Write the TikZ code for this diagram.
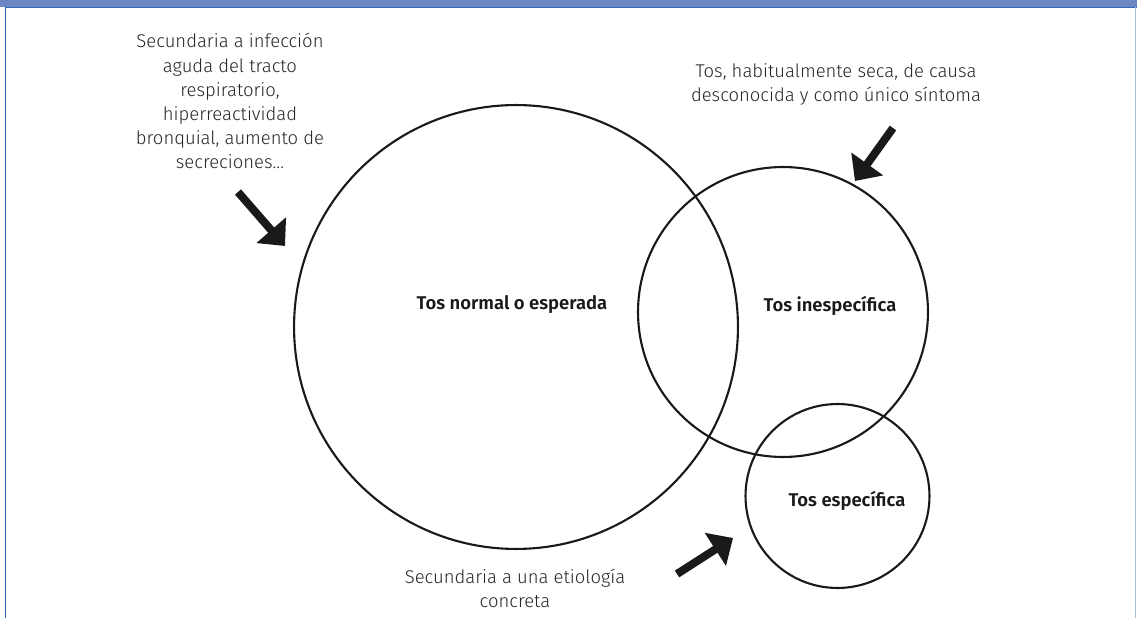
\documentclass[tikz,border=0pt]{standalone}
\usepackage{fontspec}
\setmainfont{Fira Sans}[UprightFont={* Light}, BoldFont={* SemiBold}]
\usetikzlibrary{arrows.meta}
\definecolor{barblue}{HTML}{6D87C5}
\definecolor{edgeblue}{HTML}{2C6BB7}
\definecolor{sideblue}{HTML}{A9C0E0}
\definecolor{inkgray}{HTML}{262626}
\tikzset{
	set/.style={circle, draw=black!90, line width=1.2pt, inner sep=0pt},
	setlabel/.style={font=\fontsize{10.5}{13.7}\selectfont\bfseries, text=black!90},
	note/.style={align=center, font=\fontsize{10.5}{13.7}\selectfont, text=inkgray},
	bigarrow/.style={-{Triangle[length=4.2mm,width=7.6mm]}, line width=1.6mm, black!90}
}

\begin{document}
\begin{tikzpicture}[x=0.02cm,y=-0.02cm]
\useasboundingbox (0,0) rectangle (1137,618);
% frame
\fill[barblue] (0,0) rectangle (1137,7);
\draw[edgeblue, line width=0.9pt] (5.5,618) -- (5.5,7.5) -- (1137,7.5);
\draw[sideblue, line width=0.9pt] (1135.5,7.5) -- (1135.5,618);
% sets
\node[set, minimum size=8.88cm] (normal) at (516,327) {};
\node[set, minimum size=5.8cm] (inesp) at (783,312) {};
\node[set, minimum size=3.68cm] (espec) at (837.5,496) {};
\node[setlabel] (normaltxt) at (512,305) {Tos normal o esperada};
\node[setlabel] (inesptxt) at (830,306) {Tos inespecífica};
\node[setlabel] (espectxt) at (847,501) {Tos específica};
% notes
\node[note] (leftnote) at (230,101) {Secundaria a infección\\aguda del tracto\\respiratorio,\\hiperreactividad\\bronquial, aumento de\\secreciones...};
\node[note] (rightnote) at (836,84) {Tos, habitualmente seca, de causa\\desconocida y como único síntoma};
\node[note] (bottomnote) at (515,588) {Secundaria a una etiología\\concreta};
% arrows
\coordinate (t1) at (238,192); \coordinate (h1) at (285,246);
\coordinate (t2) at (893,128); \coordinate (h2) at (855,181);
\coordinate (t3) at (677,574); \coordinate (h3) at (733,538);
\draw[bigarrow] (t1) -- (h1);
\draw[bigarrow] (t2) -- (h2);
\draw[bigarrow] (t3) -- (h3);
\end{tikzpicture}
\end{document}
